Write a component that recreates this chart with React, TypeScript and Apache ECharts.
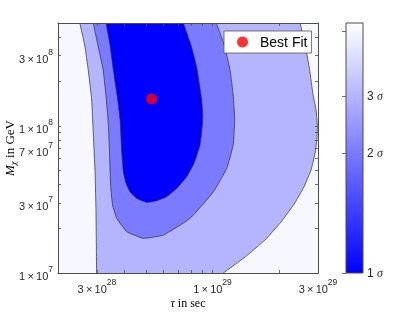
import React, { useEffect, useRef } from 'react';
import * as echarts from 'echarts';

// ---- data (tau in s, M_chi in GeV) ----
const xRange = [2e28, 3e29];
const yRange = [1e7, 5e8];
const xLabelTicks = [3e28, 1e29, 3e29];
const xTicks = [3e28, 4e28, 5e28, 6e28, 7e28, 8e28, 9e28, 1e29, 2e29, 3e29];
const yLabelTicks = [1e7, 3e7, 7e7, 1e8, 3e8];
const yTicks = [1e7, 2e7, 3e7, 4e7, 5e7, 6e7, 7e7, 8e7, 9e7, 1e8, 2e8, 3e8, 4e8];

// 3 sigma contour boundary
const contour3Sigma: [number, number][] = [
  [2.44e28, 6.63e8], [2.51e28, 5.0e8], [2.64e28, 3.54e8], [2.74e28, 2.4e8], [2.84e28, 1.5e8],
  [2.89e28, 8.67e7], [2.94e28, 5.01e7], [2.97e28, 2.68e7], [2.99e28, 1.0e7], [3.0e28, 8.29e6],
  [9.54e28, 8.29e6], [1.12e29, 1.0e7], [1.40e29, 1.28e7], [1.73e29, 1.68e7], [2.04e29, 2.22e7],
  [2.34e29, 2.94e7], [2.59e29, 3.84e7], [2.79e29, 5.01e7], [2.91e29, 6.54e7], [2.97e29, 8.27e7],
  [2.98e29, 1.01e8], [2.94e29, 1.28e8], [2.85e29, 1.62e8], [2.75e29, 2.4e8], [2.64e29, 3.38e8],
  [2.49e29, 5.0e8], [2.41e29, 6.32e8],
];
// 2 sigma contour boundary
const contour2Sigma: [number, number][] = [
  [2.84e28, 6.32e8], [2.89e28, 5.0e8], [3.03e28, 3.54e8], [3.2e28, 2.4e8], [3.31e28, 1.5e8],
  [3.38e28, 1.01e8], [3.41e28, 7.41e7], [3.46e28, 3.96e7], [3.53e28, 2.9e7], [3.69e28, 2.35e7],
  [4.09e28, 1.91e7], [4.86e28, 1.72e7], [5.99e28, 1.81e7], [7.91e28, 2.35e7], [1.01e29, 3.57e7],
  [1.16e29, 5.15e7], [1.24e29, 7.41e7], [1.26e29, 1.1e8], [1.24e29, 1.62e8], [1.2e29, 2.4e8],
  [1.13e29, 3.54e8], [1.04e29, 5.0e8], [1.0e29, 6.32e8],
];
// 1 sigma contour boundary
const contour1Sigma: [number, number][] = [
  [3.23e28, 6.32e8], [3.3e28, 5.0e8], [3.44e28, 3.54e8], [3.56e28, 2.4e8], [3.7e28, 1.62e8],
  [3.82e28, 1.1e8], [3.88e28, 6.85e7], [3.95e28, 4.88e7], [4.06e28, 4.09e7], [4.23e28, 3.57e7],
  [4.55e28, 3.21e7], [5.04e28, 3.02e7], [5.55e28, 3.09e7], [6.2e28, 3.3e7], [6.91e28, 3.78e7],
  [7.64e28, 4.51e7], [8.25e28, 5.59e7], [8.78e28, 7.41e7], [8.99e28, 1.01e8], [9.03e28, 1.19e8],
  [8.93e28, 1.5e8], [8.73e28, 1.89e8], [8.48e28, 2.51e8], [7.99e28, 3.54e8], [7.38e28, 5.0e8],
  [7.13e28, 6.32e8],
];
const bestFit: [number, number] = [5.31e28, 1.52e8];

// colorbar: positions (0..1) of the sigma levels and their labels
const sigmaLabels = ['1', '2', '3'];
const sigmaPositions = [0, 0.481, 0.709];
const outerLevel = 0.969;

const cmap = (t: number) => {
  const v = Math.round(255 * t);
  return `rgb(${v},${v},255)`;
};

const regions = [
  { pts: contour3Sigma, level: sigmaPositions[2] },
  { pts: contour2Sigma, level: sigmaPositions[1] },
  { pts: contour1Sigma, level: sigmaPositions[0] },
];

const L = Math.log10;
const FONT = 'Liberation Sans';
const SERIF = 'Liberation Serif';
const AXIS_COLOR = '#4d4d4d';
const TEXT_COLOR = '#262626';

const sciLabel = (v: number) => {
  const e = Math.floor(v + 1e-9);
  const m = Math.round(Math.pow(10, v - e));
  return `{m|${m}\u2009×\u200910}{e|${e}}`;
};

const sciRich = {
  m: { fontSize: 11, fontFamily: FONT, color: TEXT_COLOR, lineHeight: 17, verticalAlign: 'bottom' },
  e: { fontSize: 8.5, fontFamily: FONT, color: TEXT_COLOR, lineHeight: 10, verticalAlign: 'top' },
};

export default function App() {
  const ref = useRef<HTMLDivElement>(null);
  useEffect(() => {
    if (!ref.current) return;
    const chart = echarts.init(ref.current, undefined, { renderer: 'svg' });
    const xMin = L(xRange[0]);
    const xMax = L(xRange[1]);
    const yMin = L(yRange[0]);
    const yMax = L(yRange[1]);
    const tickStyle = { show: true, inside: true, length: 3, lineStyle: { color: AXIS_COLOR, width: 0.8 } };
    const lineStyle = { show: true, lineStyle: { color: AXIS_COLOR, width: 1 } };
    const option: any = {
      animation: false,
      grid: [
        { left: 58, top: 23, width: 260, height: 250, show: true, backgroundColor: cmap(outerLevel), borderWidth: 0, containLabel: false, outerBoundsMode: 'none' },
        { left: 346, top: 23, width: 17, height: 250, show: false, containLabel: false, outerBoundsMode: 'none' },
      ],
      xAxis: [
        {
          type: 'value', gridIndex: 0, min: xMin, max: xMax, z: 10,
          axisLine: lineStyle,
          axisTick: { ...tickStyle, customValues: xTicks.map(L) },
          axisLabel: { customValues: xLabelTicks.map(L), formatter: sciLabel, rich: sciRich, margin: 4 },
          splitLine: { show: false },
          name: '{g|τ}{r| in sec}', nameLocation: 'middle', nameGap: 24, nameMoveOverlap: false,
          nameTextStyle: { rich: { g: { fontFamily: SERIF, fontStyle: 'italic', fontSize: 12, color: '#000' }, r: { fontFamily: SERIF, fontSize: 12, color: '#000' } } },
        },
        {
          type: 'value', gridIndex: 0, min: xMin, max: xMax, position: 'top', z: 10,
          axisLine: lineStyle,
          axisTick: { ...tickStyle, customValues: xTicks.map(L) },
          axisLabel: { show: false }, splitLine: { show: false },
        },
        { type: 'value', gridIndex: 1, min: 0, max: 1, show: false },
      ],
      yAxis: [
        {
          type: 'value', gridIndex: 0, min: yMin, max: yMax, z: 10,
          axisLine: lineStyle,
          axisTick: { ...tickStyle, customValues: yTicks.map(L) },
          axisLabel: { customValues: yLabelTicks.map(L), formatter: sciLabel, rich: sciRich, margin: 5 },
          splitLine: { show: false },
          name: '{i|M}{s|χ}{r| in GeV}', nameLocation: 'middle', nameGap: 41, nameRotate: 90, nameMoveOverlap: false,
          nameTextStyle: {
            rich: {
              i: { fontFamily: SERIF, fontStyle: 'italic', fontSize: 13, color: '#000', lineHeight: 16 },
              s: { fontFamily: SERIF, fontStyle: 'italic', fontSize: 9, color: '#000', lineHeight: 9, verticalAlign: 'bottom' },
              r: { fontFamily: SERIF, fontSize: 13, color: '#000', lineHeight: 16 },
            },
          },
        },
        {
          type: 'value', gridIndex: 0, min: yMin, max: yMax, position: 'right', z: 10,
          axisLine: lineStyle,
          axisTick: { ...tickStyle, customValues: yTicks.map(L) },
          axisLabel: { show: false }, splitLine: { show: false },
        },
        {
          type: 'value', gridIndex: 1, min: 0, max: 1, position: 'right', z: 10,
          axisLine: { show: false },
          axisTick: { ...tickStyle, length: 4, customValues: [...sigmaPositions, outerLevel] },
          axisLabel: {
            customValues: sigmaPositions, margin: 4,
            formatter: (v: number) => {
              let k = 0;
              sigmaPositions.forEach((p, i) => { if (Math.abs(p - v) < 1e-6) k = i; });
              return `{n|${sigmaLabels[k]}} {g|σ}`;
            },
            rich: {
              n: { fontFamily: FONT, fontSize: 12, color: TEXT_COLOR },
              g: { fontFamily: SERIF, fontStyle: 'italic', fontSize: 12, color: TEXT_COLOR },
            },
          },
          splitLine: { show: false },
        },
      ],
      legend: {
        data: [{ name: 'Best Fit', icon: 'circle' }],
        left: 224, top: 31, itemWidth: 11, itemHeight: 11, itemGap: 0,
        padding: [4, 4, 4, 13], borderColor: '#555', borderWidth: 0.8, backgroundColor: '#fff',
        selectedMode: false,
        textStyle: { fontFamily: FONT, fontSize: 14, color: '#000', padding: [0, 0, 0, 7] },
      },
      series: [
        {
          type: 'custom', xAxisIndex: 0, yAxisIndex: 0, clip: true, z: 2,
          data: regions.map((_, i) => [i]),
          encode: { x: -1, y: -1 },
          renderItem: (_p: any, api: any) => {
            const r = regions[api.value(0)];
            const pts = r.pts.map(([t, m]) => api.coord([L(t), L(m)]));
            return {
              type: 'polygon',
              shape: { points: pts, smooth: 0.12 },
              style: { fill: cmap(r.level), stroke: '#2b2b2b', lineWidth: 0.7 },
            };
          },
        },
        {
          type: 'scatter', name: 'Best Fit', xAxisIndex: 0, yAxisIndex: 0, z: 5,
          symbol: 'circle', symbolSize: 11, itemStyle: { color: '#ff0000' },
          data: [[L(bestFit[0]), L(bestFit[1])]],
        },
        {
          type: 'custom', xAxisIndex: 2, yAxisIndex: 2, z: 2,
          data: [[0, 0]],
          renderItem: (_p: any, api: any) => {
            const p0 = api.coord([0, 0]);
            const p1 = api.coord([1, 1]);
            return {
              type: 'rect',
              shape: { x: p0[0], y: p1[1], width: p1[0] - p0[0], height: p0[1] - p1[1] },
              style: {
                fill: new echarts.graphic.LinearGradient(0, 0, 0, 1, [
                  { offset: 0, color: cmap(1) },
                  { offset: 1, color: cmap(0) },
                ]),
                stroke: AXIS_COLOR, lineWidth: 1,
              },
            };
          },
        },
      ],
    };
    chart.setOption(option);
    return () => chart.dispose();
  }, []);
  return <div ref={ref} style={{ position: 'fixed', left: 0, top: 0, width: 415, height: 312 }} />;
}
